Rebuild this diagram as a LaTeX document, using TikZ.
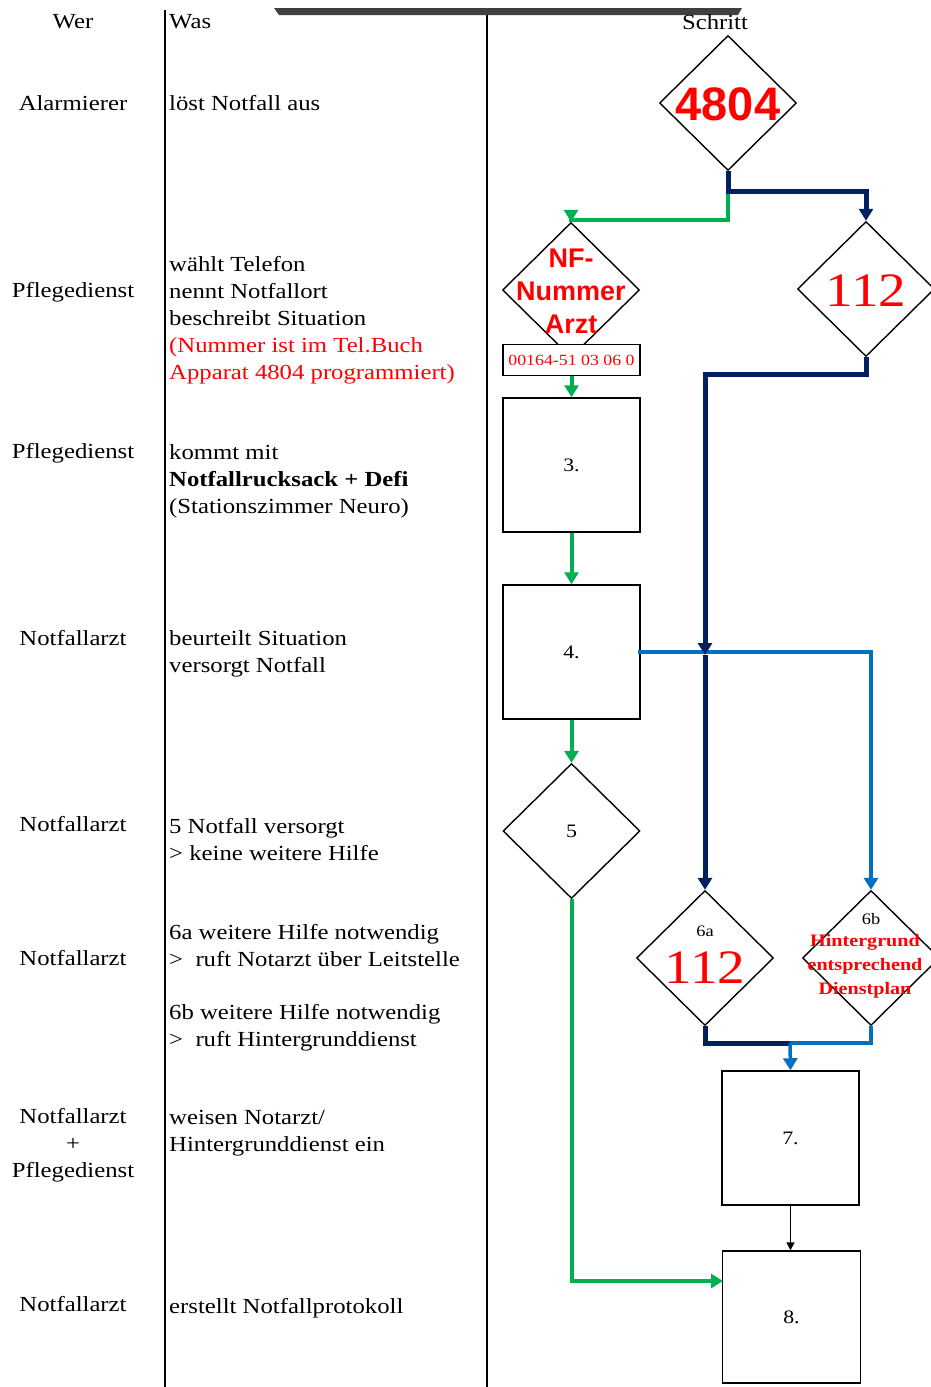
\documentclass[tikz,border=0pt]{standalone}
\usepackage{fontspec}
\setmainfont{Liberation Serif}[FakeStretch=1.15]
\newfontfamily\diasans{Liberation Sans}
\usetikzlibrary{shapes.geometric,arrows.meta}
\definecolor{fgreen}{HTML}{00B050}
\definecolor{fnavy}{HTML}{002060}
\definecolor{fblue}{HTML}{0070C0}
\definecolor{fred}{HTML}{FF0000}
\tikzset{
  txt/.style={inner sep=0pt, font=\fontsize{21.5}{27}\selectfont},
  wer/.style={txt, align=center, anchor=center},
  was/.style={txt, align=left, anchor=north west},
  stepbox/.style={draw, line width=1.5pt, minimum width=137pt, minimum height=134pt, inner sep=0pt, font=\fontsize{19}{22}\selectfont},
  dia/.style={draw, diamond, line width=1.4pt, minimum width=137pt, minimum height=135pt, inner sep=0pt},
  gline/.style={draw=fgreen, line width=4pt},
  nline/.style={draw=fnavy, line width=5pt},
  bline/.style={draw=fblue, line width=3.5pt},
  tipg/.style={-{Triangle[width=14pt,length=12pt]}},
  bigred/.style={text=fred, inner sep=0pt, font=\fontsize{48}{48}\selectfont},
}
\begin{document}
\begin{tikzpicture}[x=1pt,y=-1pt]
\useasboundingbox (0,0) rectangle (930,1387);
% column lines and header bar
\coordinate (c1t) at (165,10);
\coordinate (c1b) at (165,1387);
\coordinate (c2t) at (487,12);
\coordinate (c2b) at (487,1387);
\draw[line width=1.5pt] (c1t) -- (c1b);
\draw[line width=1.5pt] (c2t) -- (c2b);
\fill[black!75] (274,8) -- (742,8) -- (738,15) -- (279,15) -- cycle;
% headers
\node[wer] (hWer) at (73,22) {Wer};
\node[txt, anchor=west] (hWas) at (169,22) {Was};
\node[wer] (hSchritt) at (715,22) {Schritt};
% Wer column
\node[wer] (w1) at (73,103) {Alarmierer};
\node[wer] (w2) at (73,292) {Pflegedienst};
\node[wer] (w3) at (73,453) {Pflegedienst};
\node[wer] (w4) at (73,638) {Notfallarzt};
\node[wer] (w5) at (73,824) {Notfallarzt};
\node[wer] (w6) at (73,958) {Notfallarzt};
\node[wer] (w7) at (73,1145) {Notfallarzt\\+\\Pflegedienst};
\node[wer] (w8) at (73,1304) {Notfallarzt};
% Was column
\node[was] (a1) at (169,95) {löst Notfall aus};
\node[was] (a2) at (169,256) {wählt Telefon\\nennt Notfallort\\beschreibt Situation\\\textcolor{fred}{(Nummer ist im Tel.Buch}\\\textcolor{fred}{Apparat 4804 programmiert)}};
\node[was] (a3) at (169,444) {kommt mit\\\textbf{Notfallrucksack + Defi}\\(Stationszimmer Neuro)};
\node[was] (a4) at (169,630) {beurteilt Situation\\versorgt Notfall};
\node[was] (a5) at (169,818) {5 Notfall versorgt\\> keine weitere Hilfe};
\node[was] (a6) at (169,924) {6a weitere Hilfe notwendig\\>\ \ ruft Notarzt über Leitstelle};
\node[was] (a7) at (169,1004) {6b weitere Hilfe notwendig\\>\ \ ruft Hintergrunddienst};
\node[was] (a8) at (169,1110) {weisen Notarzt/\\Hintergrunddienst ein};
\node[was] (a9) at (169,1298) {erstellt Notfallprotokoll};
% shapes
\node[dia] (d4804) at (728,103) {};
\node[text=fred, inner sep=0pt, font=\diasans\bfseries\fontsize{47}{47}\selectfont] (t4804) at (728,104) {4804};
\node[dia] (dnf) at (571,290) {};
\node[text=fred, inner sep=0pt, align=center, font=\diasans\bfseries\fontsize{27}{33}\selectfont] (tnf) at (571,291) {NF-\\Nummer\\Arzt};
\node[draw, fill=white, line width=1.4pt, minimum width=137pt, minimum height=31pt, inner sep=0pt, text=fred, font=\fontsize{15.5}{15.5}\selectfont] (tel) at (571.5,360) {00164-51 03 06 0};
\node[dia] (d112) at (866,289) {};
\node[bigred] (t112) at (866,291) {112};
\node[stepbox] (b3) at (571.5,465) {3.};
\node[stepbox] (b4) at (571.5,652) {4.};
\node[dia] (d5) at (571.5,831) {};
\node[font=\fontsize{19}{22}\selectfont, inner sep=0pt] (t5) at (571.5,831) {5};
\node[dia] (d6a) at (705,958) {};
\node[font=\fontsize{16}{16}\selectfont, inner sep=0pt] (l6a) at (705,931) {6a};
\node[bigred] (t6a) at (705,968) {112};
\node[dia] (d6b) at (871,958) {};
\node[font=\fontsize{16}{16}\selectfont, inner sep=0pt] (l6b) at (871,919) {6b};
\node[text=fred, inner sep=0pt, align=center, font=\bfseries\fontsize{17.5}{24}\selectfont] (t6b) at (865,966) {Hintergrund\\entsprechend\\Dienstplan};
\node[stepbox] (b7) at (790.5,1138) {7.};
\node[stepbox, minimum width=138pt, minimum height=132pt] (b8) at (791.5,1317) {8.};
% junction coordinates
\coordinate (j1) at (728,191);
\coordinate (j2) at (728,220);
\coordinate (j3) at (866,374);
\coordinate (j4) at (705,655);
\coordinate (j5) at (790,1043);
\coordinate (j6) at (638,652);
\coordinate (j7) at (723,1281);
% connectors
\draw[gline, tipg] (j1) -- (j2) -| (dnf.north);
\draw[nline, tipg] (d4804.south) -- (j1) -| (d112.north);
\draw[gline, tipg] (tel.south) -- (b3.north);
\draw[gline, tipg] (b3.south) -- (b4.north);
\draw[gline, tipg] (b4.south) -- (d5.north);
\draw[gline, tipg] (d5.south) |- (j7);
\draw[bline, tipg] (j6) -| (d6b.north);
\draw[nline, tipg] (d112.south) -- (j3) -| (j4);
\draw[nline, tipg] (j4) -- (d6a.north);
\draw[nline] (d6a.south) |- (j5);
\draw[bline] (d6b.south) |- (j5);
\draw[bline, tipg] (j5) -- (b7.north);
\draw[line width=1.5pt, -{Triangle[width=8pt,length=8pt]}] (b7.south) -- (b7.south |- b8.north);
\end{tikzpicture}
\end{document}
